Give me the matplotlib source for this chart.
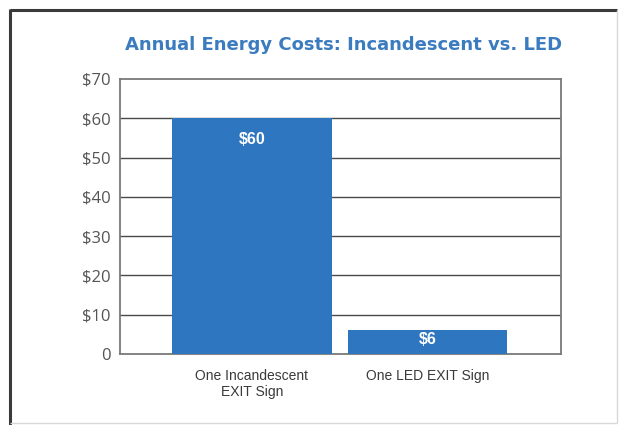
import matplotlib
matplotlib.use("Agg")
import matplotlib.pyplot as plt
from matplotlib.lines import Line2D

# Data
categories = ["One Incandescent\nEXIT Sign", "One LED EXIT Sign"]
costs = [60, 6]
value_labels = ["$60", "$6"]
y_ticks = [0, 10, 20, 30, 40, 50, 60, 70]
y_tick_labels = ["0", "$10", "$20", "$30", "$40", "$50", "$60", "$70"]

W, H = 619, 425
fig = plt.figure(figsize=(W / 100, H / 100), dpi=100)
fig.patch.set_facecolor("white")

# Outer frame: dark on top/left, light on right/bottom
def px_line(x0, y0, x1, y1, color, lw):
    fig.add_artist(Line2D([x0 / W, x1 / W], [1 - y0 / H, 1 - y1 / H],
                          transform=fig.transFigure, color=color, lw=lw,
                          solid_capstyle="butt"))

px_line(10, 10, 617, 10, "#3a3a3a", 2.2)
px_line(10, 9, 10, 425, "#3a3a3a", 2.2)
px_line(617, 10, 617, 423, "#d8d8d8", 1.0)
px_line(10, 423, 617, 423, "#d8d8d8", 1.0)

left, right, top, bottom = 120, 561, 79, 354
ax = fig.add_axes([left / W, 1 - bottom / H, (right - left) / W, (bottom - top) / H])

bar_color = "#2e76c0"
x = list(range(len(categories)))
ax.bar(x, costs, width=0.91, color=bar_color, zorder=3)

ax.set_xlim(-0.75, 1.76)
ax.set_ylim(0, 70)

# Horizontal grid
for t in y_ticks[1:-1]:
    ax.axhline(t, color="#4a4a4a", lw=1.0, zorder=1)

ax.set_yticks(y_ticks)
ax.set_yticklabels(y_tick_labels, family="Open Sans", fontsize=12, color="#555555")
ax.tick_params(axis="y", length=0, pad=7)
ax.set_xticks(x)
ax.set_xticklabels(categories, family="Liberation Sans", fontsize=10,
                   color="#3a3a3a", linespacing=1.15)
ax.tick_params(axis="x", length=0, pad=11)

for s in ax.spines.values():
    s.set_color("#7a7a7a")
    s.set_linewidth(1.3)

# Value labels inside bars
for xi, v, lbl in zip(x, costs, value_labels):
    ypos = v - 5.3 if v > 20 else v * 0.62
    ax.text(xi, ypos, lbl, ha="center", va="center", color="white",
            fontsize=11.5, fontweight="bold", family="Liberation Sans", zorder=4)

fig.text((125 + 562) / 2 / W, 1 - 45 / H, "Annual Energy Costs: Incandescent vs. LED",
         ha="center", va="center", fontsize=13, fontweight="bold",
         family="DejaVu Sans", color="#3b7bbf")

fig.savefig("out.png", dpi=100)
